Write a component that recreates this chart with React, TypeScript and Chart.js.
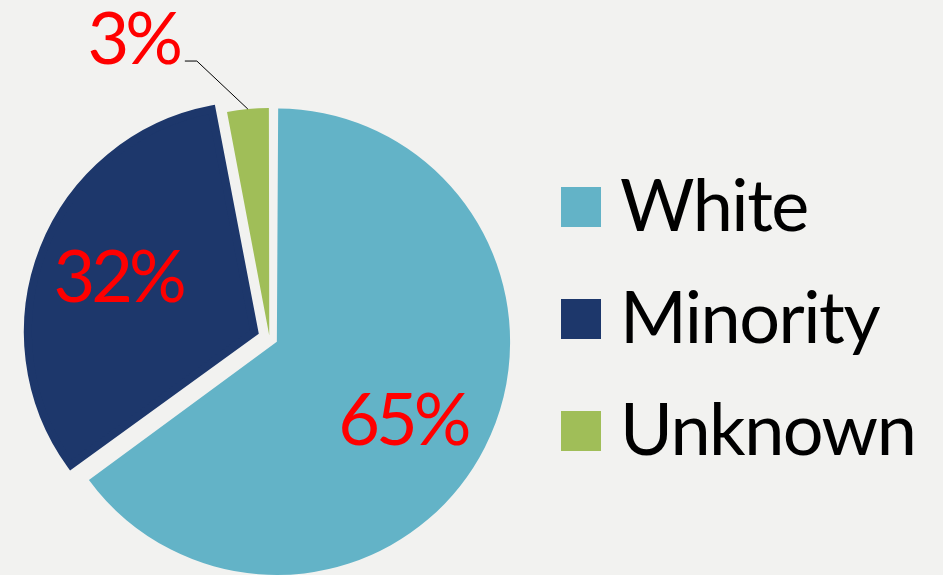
import React, { useEffect, useRef } from "react";
import { Chart, registerables } from "chart.js";

Chart.register(...registerables);

// ---- data ----
const categories = ["White", "Minority", "Unknown"];
const shares = [65, 32, 3];
const valueLabels = shares.map((v) => `${v}%`);

// ---- styling ----
const sliceColors = ["#63b3c7", "#1d376b", "#a0be58"];
const sliceOffsets = [33, 65, 11];
const sliceBorders = [0, 8, 0];
const BG = "#f2f2f0";
const FONT = "Lato, 'Open Sans', sans-serif";
const LABEL_SIZE = 72;
const LEGEND_SIZE = 72;
// small nudges for inside labels (px), styling only
const insideLabelNudge = [
  [-7, 10],
  [1, -1],
  [0, 0],
];

const labelPlugin = {
  id: "sliceLabels",
  afterDatasetsDraw(chart: any) {
    const ctx = chart.ctx as CanvasRenderingContext2D;
    const meta = chart.getDatasetMeta(0);
    ctx.save();
    ctx.font = `${LABEL_SIZE}px ${FONT}`;
    (ctx as any).letterSpacing = "-4px";
    ctx.textBaseline = "alphabetic";
    const capH = 0.7165 * LABEL_SIZE;
    meta.data.forEach((arc: any, i: number) => {
      const { x, y, startAngle, endAngle, outerRadius, circumference } = arc.getProps(
        ["x", "y", "startAngle", "endAngle", "outerRadius", "circumference"],
        true
      );
      const mid = (startAngle + endAngle) / 2;
      const t = (sliceOffsets[i] || 0) / 4;
      const fix = 1 - Math.sin(Math.min(Math.PI, circumference || 0));
      const R = outerRadius + t * fix + (sliceBorders[i] || 0) / 2;
      const cx = x + Math.cos(mid) * t;
      const cy = y + Math.sin(mid) * t;
      const text = valueLabels[i];
      ctx.fillStyle = "#ff0000";
      if (shares[i] >= 10) {
        const r = R * 0.64;
        const lx = cx + Math.cos(mid) * r + insideLabelNudge[i][0];
        const ly = cy + Math.sin(mid) * r + insideLabelNudge[i][1];
        ctx.textAlign = "center";
        ctx.fillText(text, lx, ly + capH / 2);
      } else {
        const px = cx + Math.cos(mid) * R;
        const py = cy + Math.sin(mid) * R;
        const ex = px - 51;
        const ey = py - 48;
        ctx.strokeStyle = "#000000";
        ctx.lineWidth = 1;
        ctx.beginPath();
        ctx.moveTo(px, py);
        ctx.lineTo(ex, ey);
        ctx.lineTo(ex - 12, ey);
        ctx.stroke();
        ctx.textAlign = "right";
        ctx.fillText(text, ex - 18, ey + 3);
      }
    });
    ctx.restore();
  },
};

const legendPlugin = {
  id: "sideLegend",
  afterDraw(chart: any) {
    const ctx = chart.ctx as CanvasRenderingContext2D;
    const colors = chart.data.datasets[0].backgroundColor as string[];
    ctx.save();
    ctx.font = `${LEGEND_SIZE}px ${FONT}`;
    (ctx as any).letterSpacing = "-1.5px";
    ctx.textAlign = "left";
    ctx.textBaseline = "alphabetic";
    (chart.data.labels as string[]).forEach((lab, i) => {
      const top = 187 + 112 * i;
      ctx.fillStyle = colors[i];
      ctx.fillRect(561, top, 40, 40);
      ctx.fillStyle = "#000000";
      ctx.fillText(lab, 620, top + 44);
    });
    ctx.restore();
  },
};

export default function App() {
  const ref = useRef<HTMLCanvasElement | null>(null);

  useEffect(() => {
    document.body.style.background = BG;
    const canvas = ref.current;
    if (!canvas) return;
    const chart = new Chart(canvas, {
      type: "pie",
      data: {
        labels: categories,
        datasets: [
          {
            data: shares,
            backgroundColor: sliceColors,
            borderColor: sliceColors,
            borderWidth: sliceBorders,
            borderJoinStyle: "miter",
            offset: sliceOffsets,
            hoverOffset: 0,
            radius: 225,
          } as any,
        ],
      },
      options: {
        responsive: false,
        animation: false,
        devicePixelRatio: 1,
        events: [],
        radius: 225,
        layout: { padding: { top: 101, right: 404, bottom: 0, left: 0 } },
        plugins: {
          legend: { display: false },
          tooltip: { enabled: false },
          title: { display: false },
        },
      } as any,
      plugins: [labelPlugin, legendPlugin],
    });
    return () => chart.destroy();
  }, []);

  return (
    <div
      style={{
        position: "fixed",
        left: 0,
        top: 0,
        width: 943,
        height: 575,
        background: BG,
        overflow: "hidden",
      }}
    >
      <canvas ref={ref} width={943} height={575} style={{ display: "block" }} />
    </div>
  );
}
